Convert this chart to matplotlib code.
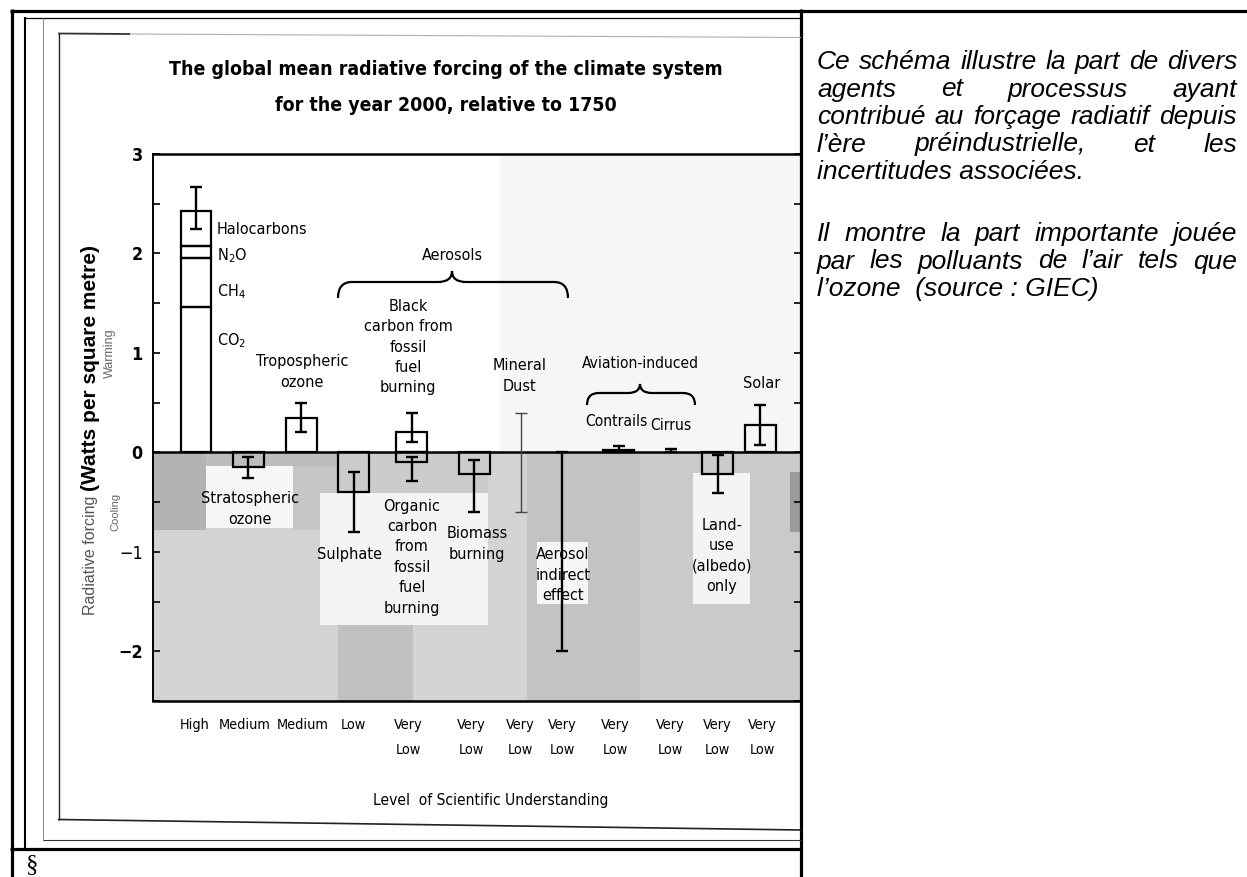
import matplotlib
matplotlib.use('Agg')
import matplotlib.pyplot as plt
from matplotlib import font_manager as fm
from matplotlib.path import Path
from matplotlib.patches import PathPatch, Rectangle
from matplotlib.ticker import MultipleLocator
import numpy as np

# ---------------- data ----------------
ghg_labels = ['CO$_\\mathregular{2}$', 'CH$_\\mathregular{4}$', 'N$_\\mathregular{2}$O', 'Halocarbons']
ghg_values = [1.46, 0.49, 0.12, 0.36]

agents = ['Well-mixed greenhouse gases', 'Stratospheric ozone', 'Tropospheric ozone', 'Sulphate',
          'Black carbon from fossil fuel burning', 'Organic carbon from fossil fuel burning',
          'Biomass burning', 'Mineral Dust', 'Aerosol indirect effect', 'Contrails', 'Cirrus',
          'Land-use (albedo) only', 'Solar']
forcing = [sum(ghg_values), -0.15, 0.35, -0.40, 0.20, -0.10, -0.22, np.nan, np.nan, 0.02, np.nan, -0.22, 0.28]
range_low = [2.25, -0.26, 0.20, -0.80, 0.10, -0.29, -0.60, -0.60, -2.00, 0.005, 0.00, -0.41, 0.07]
range_high = [2.67, -0.05, 0.50, -0.20, 0.40, -0.05, -0.08, 0.40, 0.00, 0.06, 0.03, -0.03, 0.48]
agent_slot = [0, 1, 2, 3, 4, 4, 5, 6, 7, 8, 9, 10, 11]

understanding = ['High', 'Medium', 'Medium', 'Low', 'Very\nLow', 'Very\nLow', 'Very\nLow',
                 'Very\nLow', 'Very\nLow', 'Very\nLow', 'Very\nLow', 'Very\nLow']

# ---------------- layout ----------------
W, H = 1247, 877
slot_x = [196, 248, 301, 353.5, 411.5, 474, 521, 562, 618.5, 671, 717.5, 760]
tick_x = [195, 245, 303, 353, 408, 471, 520, 562, 615, 670, 717, 762]
BAR_W = 31

# condensed font selection
entries = fm.fontManager.ttflist
names = {f.name for f in entries}
if 'Liberation Sans Narrow' in names:
    CF = dict(family='Liberation Sans Narrow'); CS = 1.0
elif 'DejaVu Sans Condensed' in names:
    CF = dict(family='DejaVu Sans Condensed'); CS = 0.86
elif any(f.name == 'DejaVu Sans' and str(f.stretch) == 'condensed' for f in entries):
    CF = dict(family='DejaVu Sans', stretch='condensed'); CS = 0.86
else:
    CF = dict(family='Liberation Sans'); CS = 0.82

fig = plt.figure(figsize=(W / 100, H / 100), dpi=100)
fig.patch.set_facecolor('white')

# ---------------- chart axes ----------------
ax = fig.add_axes([152.5 / W, 1 - 701 / H, (801 - 152.5) / W, (701 - 154) / H], zorder=1)
ax.set_xlim(152.5, 801)
ax.set_ylim(-2.5, 3)
ax.set_facecolor('white')

bg_blocks = [
    (152.5, 801, -2.5, 0, '#d3d3d3'),
    (152.5, 206, -0.78, 0, '#b3b3b3'),
    (206, 338, -0.14, 0, '#bdbdbd'),
    (293, 338, -0.78, -0.14, '#c6c6c6'),
    (338, 488, -0.41, 0, '#cbcbcb'),
    (338, 413, -2.5, -1.74, '#c0c0c0'),
    (527, 640, -2.5, 0, '#c3c3c3'),
    (640, 801, -2.5, 0, '#cacaca'),
    (790, 801, -0.8, -0.2, '#9a9a9a'),
    (500, 801, 0, 3, '#f6f6f6'),
    (206, 293, -0.76, -0.14, '#f6f6f6'),
    (320, 488, -1.74, -0.41, '#f4f4f4'),
    (537, 588, -1.52, -0.9, '#f6f6f6'),
    (693, 750, -1.52, -0.21, '#f4f4f4'),
]
for x0, x1, y0, y1, c in bg_blocks:
    ax.add_patch(Rectangle((x0, y0), x1 - x0, y1 - y0, facecolor=c, edgecolor='none', zorder=0))

ax.axhline(0, color='black', lw=1.8, zorder=3)

# stacked greenhouse gas bar
bottom = 0.0
for v in ghg_values:
    ax.bar(slot_x[0], v, width=BAR_W - 1, bottom=bottom, facecolor='none', edgecolor='black', lw=1.6, zorder=4)
    bottom += v

# other bars
for i in range(1, len(agents)):
    if np.isfinite(forcing[i]):
        ax.bar(slot_x[agent_slot[i]], forcing[i], width=BAR_W, facecolor='none',
               edgecolor='black', lw=1.6, zorder=4)

# uncertainty ranges
for i in range(len(agents)):
    lo, hi = range_low[i], range_high[i]
    thin = agents[i] == 'Mineral Dust'
    ax.errorbar(slot_x[agent_slot[i]], (lo + hi) / 2, yerr=(hi - lo) / 2, fmt='none',
                ecolor='#444444' if thin else 'black', elinewidth=1.0 if thin else 1.7,
                capsize=4.5 if not thin else 4, capthick=1.0 if thin else 1.7, zorder=5)

for side in ['left', 'right']:
    ax.spines[side].set_linewidth(1.4)
for side in ['top', 'bottom']:
    ax.spines[side].set_linewidth(1.8)

ax.set_yticks([-2, -1, 0, 1, 2, 3])
ax.set_yticklabels(['\u22122', '\u22121', '0', '1', '2', '3'])
ax.yaxis.set_minor_locator(MultipleLocator(0.5))
ax.tick_params(axis='y', which='both', direction='in', left=True, right=True, length=5, width=1.2, pad=7)
for t in ax.get_yticklabels():
    t.set_fontfamily(CF['family'])
    if 'stretch' in CF:
        t.set_fontstretch(CF['stretch'])
    t.set_fontsize(15 * CS)
    t.set_fontweight('normal' if t.get_text() == '\u22121' else 'bold')

ax.set_xticks(tick_x)
ax.set_xticklabels(understanding, fontsize=12 * CS, linespacing=2.0, fontfamily=CF['family'])
ax.tick_params(axis='x', length=0, pad=12.5)
for t in ax.get_xticklabels():
    t.set_verticalalignment('top')
    if 'stretch' in CF:
        t.set_fontstretch(CF['stretch'])

# ---------------- document overlay (pixel coordinates) ----------------
doc = fig.add_axes([0, 0, 1, 1], zorder=2)
doc.set_xlim(0, W)
doc.set_ylim(H, 0)
doc.axis('off')
doc.patch.set_alpha(0)


def seg(xs, ys, lw, c='black'):
    doc.plot(xs, ys, color=c, lw=lw, solid_capstyle='butt')


# table borders
seg([10, W], [10.5, 10.5], 2.3)
seg([11.5, 11.5], [9, H], 2.3)
seg([801, 801], [9, H], 2.3)
seg([10, 801], [848.5, 848.5], 2.3)
# picture frame lines
seg([25, 25], [17, 848], 1.5)
seg([25, 801], [18, 18], 0.9)
seg([43, 43], [18, 840], 0.7, '#888888')
seg([43, 801], [839.5, 839.5], 0.8, '#333333')
seg([58.5, 58.5], [33, 820], 1.0, '#222222')
seg([58, 130], [33.5, 34], 1.3, '#333333')
seg([130, 801], [34, 37.5], 0.8, '#b0b0b0')
seg([58, 801], [819.5, 830], 1.2, '#222222')


def brace(x0, x1, xt, y_end, y_mid, y_tip, c):
    verts = [(x0, y_end), (x0, y_mid), (x0 + c, y_mid), (xt - c, y_mid), (xt, y_mid), (xt, y_tip),
             (xt, y_mid), (xt + c, y_mid), (x1 - c, y_mid), (x1, y_mid), (x1, y_end)]
    codes = [Path.MOVETO, Path.CURVE3, Path.CURVE3, Path.LINETO, Path.CURVE3, Path.CURVE3,
             Path.CURVE3, Path.CURVE3, Path.LINETO, Path.CURVE3, Path.CURVE3]
    doc.add_patch(PathPatch(Path(verts, codes), facecolor='none', edgecolor='black', lw=1.6))


brace(338, 568, 452, 298, 282, 271, 14)
brace(587, 695, 640, 405, 393, 384, 12)


def lab(x, y, s, ha='center', size=13.5, ls=1.45, **kw):
    doc.text(x, y, s, ha=ha, va='center', fontsize=size * CS, linespacing=ls,
             color='black', **CF, **kw)


# title
doc.text(446, 75, 'The global mean radiative forcing of the climate system', ha='center',
         va='baseline', fontsize=16.2 * CS, fontweight='bold', **CF)
doc.text(446, 111, 'for the year 2000, relative to 1750', ha='center',
         va='baseline', fontsize=16.2 * CS, fontweight='bold', **CF)

# greenhouse gas labels
lab(217, 230, ghg_labels[3], ha='left')
lab(217, 256, ghg_labels[2], ha='left')
lab(217, 292, ghg_labels[1], ha='left')
lab(217, 341, ghg_labels[0], ha='left')

lab(302, 372, 'Tropospheric\nozone')
lab(452, 256, 'Aerosols')
lab(408, 347, 'Black\ncarbon from\nfossil\nfuel\nburning')
lab(520, 376, 'Mineral\nDust')
lab(640, 363, 'Aviation-induced', size=13)
lab(616, 422, 'Contrails', size=13)
lab(671, 425, 'Cirrus', size=13)
lab(762, 383, 'Solar')
lab(250, 509, 'Stratospheric\nozone')
lab(350, 555, 'Sulphate')
lab(412, 557, 'Organic\ncarbon\nfrom\nfossil\nfuel\nburning')
lab(477, 544, 'Biomass\nburning')
lab(563, 575, 'Aerosol\nindirect\neffect')
lab(722, 556, 'Land-\nuse\n(albedo)\nonly')

lab(491, 800, 'Level  of Scientific Understanding', size=13)

# y-axis titles
doc.text(90, 368, '(Watts per square metre)', rotation=90, ha='center', va='center',
         fontsize=15, fontweight='bold', family='Liberation Sans')
doc.text(90, 555, 'Radiative forcing', rotation=90, ha='center', va='center',
         fontsize=11.5, color='#555555', family='Liberation Sans')
doc.text(110, 353, 'Warming', rotation=90, ha='center', va='center',
         fontsize=9, color='#666666', family='Liberation Sans')
doc.text(115, 512, 'Cooling', rotation=90, ha='center', va='center',
         fontsize=8, color='#666666', family='Liberation Sans')

doc.text(32, 865, '\u00a7', ha='center', va='center', fontsize=18, family='Liberation Serif')

# right-hand commentary (justified)
renderer = fig.canvas.get_renderer()
TX0, TX1 = 817, 1237
tkw = dict(fontsize=19, style='italic', family='Liberation Sans', color='black')
comment_lines = [
    ('Ce schéma illustre la part de divers', 69, True),
    ('agents et processus ayant', 96.5, True),
    ('contribué au forçage radiatif depuis', 124, True),
    ('l\u2019ère préindustrielle, et les', 151.5, True),
    ('incertitudes associées.', 179, False),
    ('Il montre la part importante jouée', 241, True),
    ('par les polluants de l\u2019air tels que', 268.5, True),
    ('l\u2019ozone  (source : GIEC)', 296, False),
]
for line, y, just in comment_lines:
    if not just:
        doc.text(TX0, y, line, ha='left', va='baseline', **tkw)
        continue
    words = line.split()
    texts = [doc.text(0, y, w, ha='left', va='baseline', **tkw) for w in words]
    widths = [t.get_window_extent(renderer).width for t in texts]
    gap = (TX1 - TX0 - sum(widths)) / (len(words) - 1)
    xx = TX0
    for t, w in zip(texts, widths):
        t.set_x(xx)
        xx += w + gap

fig.savefig('out.png', dpi=100, facecolor='white')
